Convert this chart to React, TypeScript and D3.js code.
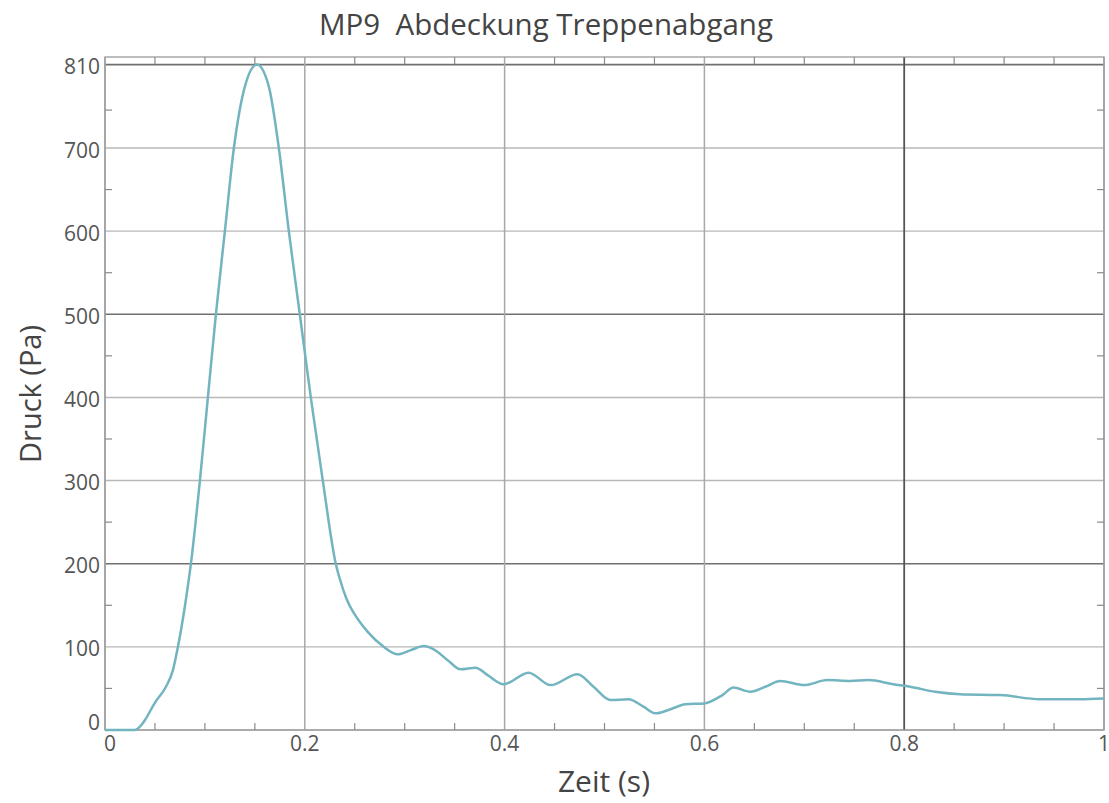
import React, { useEffect, useRef } from 'react';
import * as d3 from 'd3';

// Druckverlauf MP9, Werte
const time = [
  0, 0.02, 0.03, 0.035, 0.04, 0.05, 0.061, 0.068, 0.073, 0.081, 0.086, 0.095, 0.103, 0.111,
  0.12, 0.129, 0.14, 0.152, 0.164, 0.174, 0.184, 0.195, 0.206, 0.218, 0.231, 0.236,
  0.242, 0.25, 0.263, 0.279, 0.293, 0.306, 0.319, 0.329, 0.343, 0.356, 0.371, 0.383, 0.399,
  0.424, 0.446, 0.473, 0.489, 0.506, 0.524, 0.539, 0.551, 0.564, 0.581, 0.6, 0.618,
  0.629, 0.646, 0.661, 0.676, 0.7, 0.723, 0.746, 0.764, 0.789, 0.806, 0.831, 0.856,
  0.896, 0.936, 0.976, 1.0
];
const pressure = [
  0, 0, 0, 4, 12, 33, 52, 72, 100, 157, 200, 300, 400, 500,
  600, 700, 781, 810, 781, 700, 600, 500, 400, 300, 200, 178,
  157, 139, 118, 100, 91, 96, 101, 97, 84, 73, 75, 66, 55,
  69, 54, 67, 52, 36, 37, 28, 20, 24, 31, 32, 42,
  51, 46, 52, 59, 54, 60, 59, 60, 55, 52, 46, 43,
  42, 37, 37, 38
];

const yTicks = [0, 100, 200, 300, 400, 500, 600, 700, 810];
const yTicksDark = [200, 500, 810];
const xTicks = [0, 0.2, 0.4, 0.6, 0.8, 1];
const xTicksDark = [0.8];
const yMinor = [50, 150, 250, 350, 450, 550, 650, 750];
const xMinor = [0.05, 0.1, 0.15, 0.25, 0.3, 0.35, 0.45, 0.5, 0.55, 0.65, 0.7, 0.75, 0.85, 0.9, 0.95];

const title = 'MP9  Abdeckung Treppenabgang';
const xLabel = 'Zeit (s)';
const yLabel = 'Druck (Pa)';

const App = () => {
  const svgRef = useRef<SVGSVGElement>(null);

  useEffect(() => {
    const svg = d3.select(svgRef.current);
    svg.selectAll('*').remove();

    const W = 1109;
    const H = 803;
    const left = 105, right = 1104, top = 57, bottom = 730;
    const font = '"Open Sans", "Noto Sans", sans-serif';

    svg.attr('width', W).attr('height', H);

    const x = d3.scaleLinear().domain([0, 1]).range([left, right]);
    // the upper segment of the source axis is slightly compressed
    const y = d3.scaleLinear().domain([0, 700, 820]).range([bottom, 148, top]);

    // grid
    svg.append('g')
      .selectAll('line')
      .data(yTicks)
      .enter()
      .append('line')
      .attr('x1', left).attr('x2', right)
      .attr('y1', d => y(d)).attr('y2', d => y(d))
      .attr('stroke', d => yTicksDark.includes(d) ? '#707070' : '#b8b8b8')
      .attr('stroke-width', d => yTicksDark.includes(d) ? 1.6 : 1.4);

    svg.append('g')
      .selectAll('line')
      .data(xTicks)
      .enter()
      .append('line')
      .attr('y1', top).attr('y2', bottom)
      .attr('x1', d => x(d)).attr('x2', d => x(d))
      .attr('stroke', d => xTicksDark.includes(d) ? '#555' : '#a8a8a8')
      .attr('stroke-width', d => xTicksDark.includes(d) ? 1.8 : 1.5);

    // frame
    svg.append('rect')
      .attr('x', left).attr('y', top)
      .attr('width', right - left).attr('height', bottom - top)
      .attr('fill', 'none')
      .attr('stroke', '#9a9a9a')
      .attr('stroke-width', 1.3);

    // minor ticks, inward
    const tickLen = 7;
    const minor = svg.append('g').attr('stroke', '#8a8a8a').attr('stroke-width', 1.2);
    xMinor.forEach(t => {
      minor.append('line').attr('x1', x(t)).attr('x2', x(t)).attr('y1', bottom).attr('y2', bottom - tickLen);
      minor.append('line').attr('x1', x(t)).attr('x2', x(t)).attr('y1', top).attr('y2', top + tickLen);
    });
    yMinor.forEach(v => {
      minor.append('line').attr('x1', left).attr('x2', left + tickLen).attr('y1', y(v)).attr('y2', y(v));
      minor.append('line').attr('x1', right).attr('x2', right - tickLen).attr('y1', y(v)).attr('y2', y(v));
    });

    // tick labels (the 0 label sits above the axis line)
    svg.append('g')
      .selectAll('text')
      .data(yTicks)
      .enter()
      .append('text')
      .attr('x', left - 5)
      .attr('y', d => y(d) + (d === 0 ? 0 : 9.5))
      .attr('text-anchor', 'end')
      .attr('fill', '#555')
      .style('font-family', font)
      .style('font-size', '21px')
      .text(d => d);

    svg.append('g')
      .selectAll('text')
      .data(xTicks)
      .enter()
      .append('text')
      .attr('x', d => x(d) + (d === 0 ? 5 : 0))
      .attr('y', bottom + 21)
      .attr('text-anchor', 'middle')
      .attr('fill', '#555')
      .style('font-family', font)
      .style('font-size', '21px')
      .text(d => d);

    // line
    const data = time.map((t, i) => ({ t, v: pressure[i] }));
    const line = d3.line<{ t: number; v: number }>()
      .x(d => x(d.t))
      .y(d => y(d.v))
      .curve(d3.curveMonotoneX);

    svg.append('path')
      .datum(data)
      .attr('fill', 'none')
      .attr('stroke', '#72b4bf')
      .attr('stroke-width', 2.5)
      .attr('d', line);

    // titles
    svg.append('text')
      .attr('x', 546)
      .attr('y', 35)
      .attr('text-anchor', 'middle')
      .attr('fill', '#444')
      .style('font-family', font)
      .style('font-size', '29.5px')
      .style('white-space', 'pre')
      .text(title);

    svg.append('text')
      .attr('x', 604)
      .attr('y', 792)
      .attr('text-anchor', 'middle')
      .attr('fill', '#444')
      .style('font-family', font)
      .style('font-size', '30px')
      .text(xLabel);

    svg.append('text')
      .attr('transform', 'rotate(-90)')
      .attr('x', -394)
      .attr('y', 41)
      .attr('text-anchor', 'middle')
      .attr('fill', '#444')
      .style('font-family', font)
      .style('font-size', '29px')
      .text(yLabel);
  }, []);

  return (
    <svg ref={svgRef} style={{ position: 'absolute', left: 0, top: 0, background: '#fff' }}></svg>
  );
};

export default App;
